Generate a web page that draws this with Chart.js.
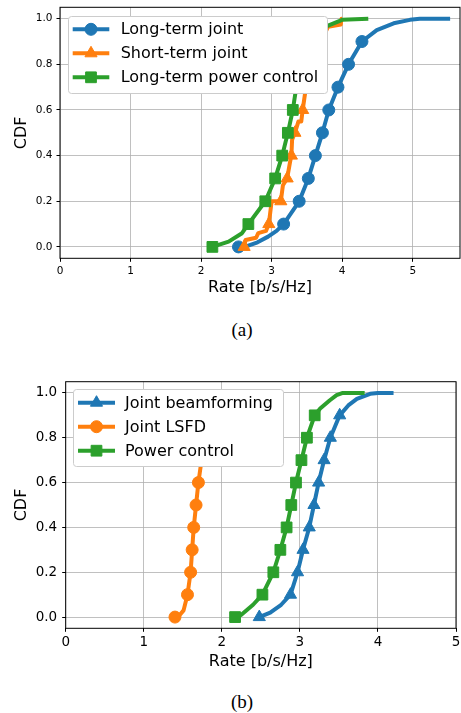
<!DOCTYPE html>
<html>
<head>
<meta charset="utf-8">
<script src="https://cdn.jsdelivr.net/npm/chart.js@4.4.0/dist/chart.umd.min.js"></script>
<style>
  body { margin: 0; background: #fff; width: 461px; height: 713px; position: relative; overflow: hidden; }
  .plot { position: absolute; left: 0; }
  .caption { position: absolute; left: 242px; transform: translateX(-50%); font-family: "Liberation Serif", "DejaVu Serif", serif; font-size: 19px; line-height: 20px; color: #000; }
</style>
</head>
<body>
<div class="plot" style="top:0px"><canvas id="chartA" width="461" height="300"></canvas></div>
<div class="caption" style="top:320px">(a)</div>
<div class="plot" style="top:375px"><canvas id="chartB" width="461" height="300"></canvas></div>
<div class="caption" style="top:692px">(b)</div>
<script>
// CDF levels where the markers sit
const cdfMarks = [0, 0.1, 0.2, 0.3, 0.4, 0.5, 0.6, 0.7, 0.8, 0.9];
const xTickVals = [0, 1, 2, 3, 4, 5];
const yTickVals = [0, 0.2, 0.4, 0.6, 0.8, 1.0];

// (a) Long-term joint
const longJointMarkX = [2.53, 3.17, 3.39, 3.52, 3.62, 3.72, 3.81, 3.94, 4.09, 4.28];
const longJointCurveX = [2.65, 2.80, 2.95, 3.07, 4.49, 4.73, 4.96, 5.10, 5.53];
const longJointCurveY = [0.003, 0.02, 0.045, 0.07, 0.95, 0.98, 0.995, 1.0, 1.0];
// (a) Short-term joint
const shortJointMarkX = [2.61, 2.96, 3.13, 3.22, 3.28, 3.33, 3.44, 3.50, 3.58, 3.70];
const shortJointCurveX = [2.63, 2.78, 2.81, 2.92, 3.00, 3.16, 3.26, 3.29, 3.38, 3.42, 3.475, 3.80, 3.98, 3.99, 4.00];
const shortJointCurveY = [0.03, 0.04, 0.06, 0.07, 0.2, 0.27, 0.37, 0.47, 0.55, 0.55, 0.675, 0.965, 0.975, 1.0, 1.0];
// (a) Long-term power control
const longPowerMarkX = [2.16, 2.67, 2.91, 3.05, 3.15, 3.23, 3.30, 3.35, 3.42, 3.55];
const longPowerCurveX = [2.39, 2.58, 3.72, 3.80, 4.00, 4.37];
const longPowerCurveY = [0.023, 0.06, 0.95, 0.97, 0.995, 1.0];

// (b) Joint beamforming
const beamMarkX = [2.48, 2.88, 2.97, 3.04, 3.12, 3.18, 3.24, 3.31, 3.39, 3.51];
const beamCurveX = [2.62, 2.76, 3.62, 3.73, 3.90, 4.00, 4.20];
const beamCurveY = [0.02, 0.055, 0.944, 0.973, 0.996, 1.0, 1.0];
// (b) Joint LSFD
const lsfdMarkX = [1.40, 1.56, 1.60, 1.62, 1.64, 1.67, 1.70, 1.74, 1.79, 1.86];
const lsfdCurveX = [1.45, 1.51, 1.95, 2.10];
const lsfdCurveY = [0.005, 0.03, 0.97, 1.0];
// (b) Power control
const powerMarkX = [2.17, 2.52, 2.66, 2.75, 2.83, 2.89, 2.95, 3.02, 3.09, 3.19];
const powerCurveX = [2.25, 2.40, 3.26, 3.38, 3.47, 3.55, 3.83];
const powerCurveY = [0.01, 0.055, 0.93, 0.966, 0.99, 1.0, 1.0];

const BLUE = '#1f77b4', ORANGE = '#ff7f0e', GREEN = '#2ca02c';
const FONT = 'DejaVu Sans';

// merge marker points and curve points into one sorted line
function buildPoints(markX, curveX, curveY) {
  const pts = markX.map((x, i) => ({ x: x, y: cdfMarks[i], m: true }));
  curveX.forEach((x, i) => pts.push({ x: x, y: curveY[i], m: false }));
  pts.sort((a, b) => (a.y - b.y) || (a.x - b.x));
  return pts;
}

const markerSize = { circle: 6, triangle: 7, rect: 7.6 };

function drawMarker(ctx, style, x, y, color) {
  const r = markerSize[style];
  ctx.fillStyle = color;
  ctx.strokeStyle = color;
  ctx.lineWidth = 1;
  ctx.beginPath();
  if (style === 'circle') {
    ctx.arc(x, y, r, 0, Math.PI * 2);
  } else if (style === 'triangle') {
    ctx.moveTo(x, y - r);
    ctx.lineTo(x + 0.866 * r, y + 0.5 * r);
    ctx.lineTo(x - 0.866 * r, y + 0.5 * r);
    ctx.closePath();
  } else {
    const s = r * Math.SQRT1_2;
    ctx.rect(x - s, y - s, 2 * s, 2 * s);
  }
  ctx.fill();
  ctx.stroke();
}

// black box round the axes, like matplotlib spines
const spines = {
  id: 'spines',
  afterDatasetsDraw(chart) {
    const a = chart.chartArea, ctx = chart.ctx;
    ctx.save();
    ctx.strokeStyle = '#000';
    ctx.lineWidth = 1;
    ctx.strokeRect(a.left, a.top, a.right - a.left, a.bottom - a.top);
    ctx.restore();
  }
};

// matplotlib style legend box drawn on top
const boxLegend = {
  id: 'boxLegend',
  afterDraw(chart, args, opts) {
    const ctx = chart.ctx;
    ctx.save();
    ctx.beginPath();
    ctx.roundRect(opts.x + 0.5, opts.y + 0.5, opts.w, opts.h, 3);
    ctx.fillStyle = '#ffffff';
    ctx.fill();
    ctx.strokeStyle = '#cccccc';
    ctx.lineWidth = 1;
    ctx.stroke();
    chart.data.datasets.forEach((ds, i) => {
      const y = opts.y + opts.firstRow + i * opts.rowGap;
      ctx.strokeStyle = ds.borderColor;
      ctx.lineWidth = 4;
      ctx.beginPath();
      ctx.moveTo(opts.lineX0, y);
      ctx.lineTo(opts.lineX1, y);
      ctx.stroke();
      drawMarker(ctx, ds.pointStyle, (opts.lineX0 + opts.lineX1) / 2, y, ds.borderColor);
      ctx.fillStyle = '#000';
      ctx.font = '16px "' + FONT + '"';
      ctx.textBaseline = 'middle';
      ctx.textAlign = 'left';
      ctx.fillText(ds.label, opts.textX, y + 1);
    });
    ctx.restore();
  }
};

function makeDataset(label, color, style, points, order) {
  return {
    label: label,
    data: points,
    borderColor: color,
    backgroundColor: color,
    borderWidth: 4,
    borderJoinStyle: 'round',
    tension: 0,
    pointStyle: style,
    pointRadius: c => (c.raw && c.raw.m ? markerSize[style] : 0),
    pointBorderWidth: 1,
    pointBorderColor: color,
    pointBackgroundColor: color,
    order: order
  };
}

function makeChart(id, datasets, L) {
  return new Chart(document.getElementById(id), {
    type: 'line',
    data: { datasets: datasets },
    plugins: [spines, boxLegend],
    options: {
      responsive: false,
      animation: false,
      devicePixelRatio: 1,
      layout: { autoPadding: false, padding: { top: L.top, right: L.right, left: 0, bottom: 0 } },
      plugins: {
        legend: { display: false },
        tooltip: { enabled: false },
        boxLegend: L.legend
      },
      scales: {
        x: {
          type: 'linear',
          min: 0,
          max: L.xMax,
          afterBuildTicks: s => { s.ticks = xTickVals.map(v => ({ value: v })); },
          afterFit: s => { s.height = L.bottomH; s.paddingLeft = 0; s.paddingRight = 0; },
          border: { display: false },
          grid: { color: '#b0b0b0', lineWidth: 0.8, tickColor: '#000', tickLength: 3.5, tickWidth: 1 },
          ticks: { color: '#000', font: { family: FONT, size: L.tickSize }, padding: L.xTickPad, maxRotation: 0,
                   callback: v => String(v) },
          title: { display: true, text: 'Rate [b/s/Hz]', color: '#000', font: { family: FONT, size: 16 },
                   padding: { top: 0, bottom: L.xTitlePad } }
        },
        y: {
          min: -0.05,
          max: 1.05,
          afterBuildTicks: s => { s.ticks = yTickVals.map(v => ({ value: v })); },
          afterFit: s => { s.width = L.leftW; s.paddingTop = 0; s.paddingBottom = 0; },
          border: { display: false },
          grid: { color: '#b0b0b0', lineWidth: 0.8, tickColor: '#000', tickLength: 3.5, tickWidth: 1 },
          ticks: { color: '#000', font: { family: FONT, size: L.tickSize }, padding: L.yTickPad,
                   callback: v => v.toFixed(1) },
          title: { display: true, text: 'CDF', color: '#000', font: { family: FONT, size: 16 },
                   padding: { top: 12, bottom: 0 } }
        }
      }
    }
  });
}

makeChart('chartA', [
  makeDataset('Long-term joint', BLUE, 'circle', buildPoints(longJointMarkX, longJointCurveX, longJointCurveY), 3),
  makeDataset('Short-term joint', ORANGE, 'triangle', buildPoints(shortJointMarkX, shortJointCurveX, shortJointCurveY), 2),
  makeDataset('Long-term power control', GREEN, 'rect', buildPoints(longPowerMarkX, longPowerCurveX, longPowerCurveY), 1)
], {
  top: 7.3, right: 1, leftW: 60, bottomH: 41.7, xMax: 5.67,
  tickSize: 10.5, xTickPad: 3, yTickPad: 4, xTitlePad: 3,
  legend: { x: 68, y: 16, w: 259, h: 77, firstRow: 13.3, rowGap: 24, lineX0: 72.7, lineX1: 109.3, textX: 120.7 }
});

makeChart('chartB', [
  makeDataset('Joint beamforming', BLUE, 'triangle', buildPoints(beamMarkX, beamCurveX, beamCurveY), 3),
  makeDataset('Joint LSFD', ORANGE, 'circle', buildPoints(lsfdMarkX, lsfdCurveX, lsfdCurveY), 2),
  makeDataset('Power control', GREEN, 'rect', buildPoints(powerMarkX, powerCurveX, powerCurveY), 1)
], {
  top: 6.7, right: 5, leftW: 65.7, bottomH: 46.7, xMax: 5,
  tickSize: 13.5, xTickPad: 3, yTickPad: 5, xTitlePad: 3.7,
  legend: { x: 73, y: 14, w: 210, h: 77, firstRow: 13.7, rowGap: 24, lineX0: 78, lineX1: 115, textX: 125 }
});
</script>
</body>
</html>
